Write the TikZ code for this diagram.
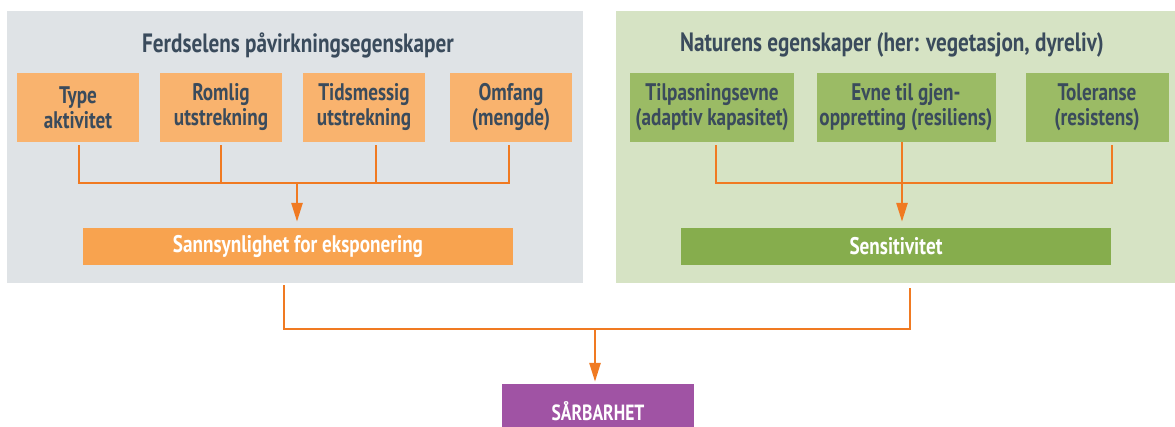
\documentclass[tikz,border=0pt]{standalone}
\usepackage{fontspec}
\setmainfont{PT Sans}[FakeStretch=0.8]
\usepackage{tikz}
\usetikzlibrary{arrows.meta}

\definecolor{panelgray}{HTML}{DFE3E6}
\definecolor{panelgreen}{HTML}{D6E3C4}
\definecolor{boxorange}{HTML}{F9B36E}
\definecolor{mainorange}{HTML}{F8A34F}
\definecolor{boxgreen}{HTML}{9BBB65}
\definecolor{maingreen}{HTML}{86AD4D}
\definecolor{linkorange}{HTML}{F07A22}
\definecolor{resultpurple}{HTML}{A053A4}
\definecolor{slatetext}{HTML}{3A4B5C}

\begin{document}
\begin{tikzpicture}[x=1pt,y=-1pt,font=\fontsize{24}{25}\selectfont\bfseries,
  panel/.style={rectangle,inner sep=0pt,minimum width=#1,minimum height=272},
  heading/.style={text=slatetext,font=\fontsize{26.5}{30}\selectfont\bfseries},
  factor/.style={rectangle,fill=#1,text=slatetext,align=center,inner sep=0pt,minimum width=122,minimum height=69},
  summary/.style={rectangle,fill=#1,text=white,inner sep=0pt,minimum width=430,minimum height=37},
  link/.style={draw=linkorange,line width=2.6pt},
  arrow/.style={link,-{Triangle[length=19pt,width=11pt]}}]
\useasboundingbox (0,0) rectangle (1175,426);
% panels
\node[panel=576,fill=panelgray] (leftpanel) at (295,147) {};
\node[panel=559,fill=panelgreen] (rightpanel) at (895.5,147) {};
\node[heading] (lefthead) at (298,45) {Ferdselens påvirkningsegenskaper};
\node[heading] (righthead) at (892,45) {Naturens egenskaper (her: vegetasjon, dyreliv)};
% traffic factors
\node[factor=boxorange] (type) at (78,107.5) {Type\\aktivitet};
\node[factor=boxorange] (romlig) at (221,107.5) {Romlig\\utstrekning};
\node[factor=boxorange] (tids) at (364,107.5) {Tidsmessig\\utstrekning};
\node[factor=boxorange] (omfang) at (511,107.5) {Omfang\\(mengde)};
\node[summary=mainorange] (sann) at (298,246.5) {Sannsynlighet for eksponering};
% nature factors
\node[factor=boxgreen,minimum width=164] (tilpas) at (712,107.5) {Tilpasningsevne\\(adaptiv kapasitet)};
\node[factor=boxgreen,minimum width=179] (evne) at (906,107.5) {Evne til gjen-\\oppretting (resiliens)};
\node[factor=boxgreen,minimum width=143] (toler) at (1097,107.5) {Toleranse\\(resistens)};
\node[summary=maingreen] (sens) at (896,246.5) {Sensitivitet};
% result
\node[rectangle,fill=resultpurple,text=white,inner sep=0pt,minimum width=192,minimum height=54,font=\fontsize{22}{24}\selectfont\bfseries] (sarbar) at (598,411) {SÅRBARHET};
% joins
\coordinate (fjoin) at (297,183);
\coordinate (njoin) at (902,183);
\coordinate (rjoin) at (595,329);
\draw[link,shorten <=3pt] ([xshift=1pt]type.south) |- (fjoin);
\draw[link,shorten <=3pt] ([xshift=-2pt]omfang.south) |- (fjoin);
\draw[link,shorten <=3pt] (romlig.south) -- (romlig.south |- fjoin);
\draw[link,shorten <=3pt] ([xshift=12pt]tids.south) -- ([xshift=12pt]tids.south |- fjoin);
\draw[arrow,shorten >=6pt] (fjoin) -- (fjoin |- sann.north);
\draw[link,shorten <=3pt] ([xshift=4pt]tilpas.south) |- (njoin);
\draw[link,shorten <=3pt] ([xshift=15pt]toler.south) |- (njoin);
\draw[arrow,shorten >=6pt] ([xshift=-4pt]evne.south) -- (njoin |- sens.north);
\draw[link,shorten <=20pt] ([xshift=-14pt]sann.south) |- (rjoin);
\draw[link,shorten <=23pt] ([xshift=14pt]sens.south) |- (rjoin);
\draw[arrow,shorten >=2pt] (rjoin) -- (rjoin |- sarbar.north);
\end{tikzpicture}
\end{document}
